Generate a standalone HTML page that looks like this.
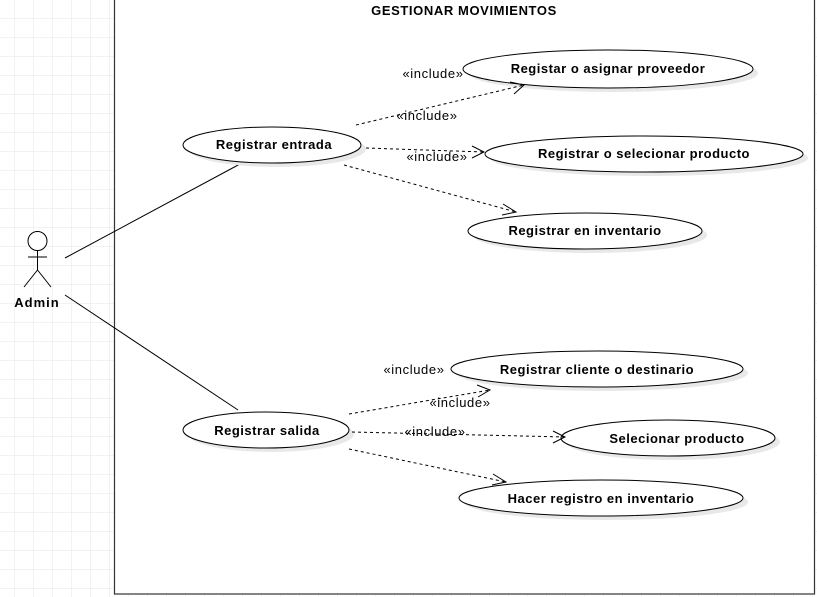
<!DOCTYPE html>
<html><head><meta charset="utf-8"><style>
html,body{margin:0;padding:0;background:#fff}
svg{display:block}
text{font-family:"Liberation Sans",sans-serif}
.b{font-weight:bold;font-size:13px;letter-spacing:0.5px}
.i{font-size:13px;letter-spacing:0.6px}
</style></head><body>
<svg width="817" height="597" viewBox="0 0 817 597" xmlns="http://www.w3.org/2000/svg">
<defs>
<pattern id="g" width="19" height="19" patternUnits="userSpaceOnUse" x="-4" y="0">
<path d="M19 0V19M0 19H19" fill="none" stroke="#e4e4e4" stroke-width="1"/>
</pattern>
</defs>
<rect width="817" height="597" fill="#fff"/>
<rect width="817" height="597" fill="url(#g)"/>
<rect x="114.5" y="-1" width="700" height="595" fill="#fff" stroke="#333" stroke-width="1.2"/>
<text x="464" y="15" class="b" text-anchor="middle" style="font-size:13px;letter-spacing:0.6px">GESTIONAR MOVIMIENTOS</text>
<g stroke="#000" fill="none" stroke-width="1">
<circle cx="37.5" cy="241" r="9.5" fill="#fff"/>
<line x1="37.5" y1="250.5" x2="37.5" y2="270"/>
<line x1="28" y1="257" x2="47" y2="257"/>
<line x1="37.5" y1="270" x2="24" y2="287"/>
<line x1="37.5" y1="270" x2="51" y2="287"/>
<line x1="65" y1="258" x2="240" y2="164"/>
<line x1="65" y1="295" x2="238" y2="410"/>
</g>
<text x="37" y="307" class="b" text-anchor="middle" style="letter-spacing:1px">Admin</text>
<g fill="#e8e8e8">
<ellipse cx="613" cy="73" rx="145" ry="19"/>
<ellipse cx="277" cy="149" rx="89" ry="18"/>
<ellipse cx="649" cy="158" rx="159" ry="18"/>
<ellipse cx="590" cy="235" rx="117" ry="18"/>
<ellipse cx="602" cy="373" rx="146" ry="18"/>
<ellipse cx="271" cy="434" rx="83" ry="18"/>
<ellipse cx="673" cy="442" rx="107" ry="18"/>
<ellipse cx="606" cy="502" rx="142" ry="18"/>
</g>
<g fill="#fff" stroke="#000" stroke-width="1">
<ellipse cx="608" cy="69" rx="145" ry="19"/>
<ellipse cx="272" cy="145" rx="89" ry="18"/>
<ellipse cx="644" cy="154" rx="159" ry="18"/>
<ellipse cx="585" cy="231" rx="117" ry="18"/>
<ellipse cx="597" cy="369" rx="146" ry="18"/>
<ellipse cx="266" cy="430" rx="83" ry="18"/>
<ellipse cx="668" cy="438" rx="107" ry="18"/>
<ellipse cx="601" cy="498" rx="142" ry="18"/>
</g>
<g class="b" text-anchor="middle">
<text x="608" y="73">Registar o asignar proveedor</text>
<text x="274" y="149">Registrar entrada</text>
<text x="644" y="158">Registrar o selecionar producto</text>
<text x="585" y="235">Registrar en inventario</text>
<text x="597" y="374">Registrar cliente o destinario</text>
<text x="267" y="435">Registrar salida</text>
<text x="677" y="443">Selecionar producto</text>
<text x="601" y="503">Hacer registro en inventario</text>
</g>
<g stroke="#000" fill="none" stroke-width="1" stroke-dasharray="3,3">
<line x1="356" y1="125" x2="524" y2="85"/>
<line x1="366" y1="148" x2="484" y2="152"/>
<line x1="344" y1="165" x2="516" y2="212"/>
<line x1="349" y1="414" x2="490" y2="390"/>
<line x1="352" y1="432" x2="565" y2="437"/>
<line x1="349" y1="449" x2="506" y2="482"/>
</g>
<g stroke="#000" fill="none" stroke-width="1">
<polyline points="510,82 524,85 514,94"/>
<polyline points="472,146 484,152 472,158"/>
<polyline points="503,204 516,212 502,215"/>
<polyline points="477,385 490,390 478,397"/>
<polyline points="553,431 565,437 553,443"/>
<polyline points="493,474 506,482 492,485"/>
</g>
<g class="i" text-anchor="middle">
<text x="433" y="78">«include»</text>
<text x="427" y="120">«include»</text>
<text x="437" y="161">«include»</text>
<text x="414" y="374">«include»</text>
<text x="460" y="407">«include»</text>
<text x="435" y="436">«include»</text>
</g>
</svg>
</body></html>
